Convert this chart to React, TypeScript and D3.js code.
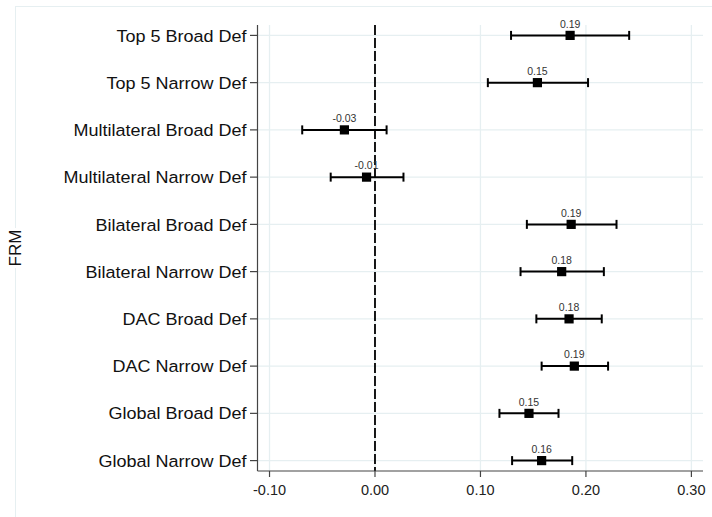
import * as d3 from 'd3';

// coefficient plot: FRM estimates with confidence intervals
const categories = [
  'Top 5 Broad Def',
  'Top 5 Narrow Def',
  'Multilateral Broad Def',
  'Multilateral Narrow Def',
  'Bilateral Broad Def',
  'Bilateral Narrow Def',
  'DAC Broad Def',
  'DAC Narrow Def',
  'Global Broad Def',
  'Global Narrow Def',
];
const estimates = [0.185, 0.154, -0.029, -0.008, 0.186, 0.177, 0.184, 0.189, 0.146, 0.158];
const lower = [0.129, 0.107, -0.069, -0.042, 0.144, 0.138, 0.153, 0.158, 0.118, 0.130];
const upper = [0.241, 0.202, 0.011, 0.027, 0.229, 0.217, 0.215, 0.221, 0.174, 0.187];
const pointLabels = ['0.19', '0.15', '-0.03', '-0.01', '0.19', '0.18', '0.18', '0.19', '0.15', '0.16'];
const xTicks = [-0.1, 0, 0.1, 0.2, 0.3];
const yTitle = 'FRM';

const W = 712;
const H = 517;
const left = 257.5;
const right = 703;
const top = 25;
const bottom = 471;
const gridColor = '#e6eff1';
const font = '"Liberation Sans", Arial, sans-serif';

export default function App() {
  const x = d3.scaleLinear().domain([-0.1114, 0.311]).range([left, right]);
  const y = d3.scalePoint<string>().domain(categories).range([top, bottom]).padding(0.22);
  // plain hyphen for negatives, like the original
  const fmt = (v: number) => d3.format('.2f')(v).replace('\u2212', '-');

  return (
    <svg
      width={W}
      height={H}
      style={{ position: 'absolute', left: 0, top: 0, background: '#fff' }}
      fontFamily={font}
    >
      {/* outer graph region border (left + top only visible) */}
      <line x1={15.5} x2={15.5} y1={6} y2={H} stroke={gridColor} />
      <line x1={15} x2={W} y1={6.5} y2={6.5} stroke={gridColor} />

      {/* grid */}
      {xTicks.map((t) => (
        <line key={'gx' + t} x1={x(t)} x2={x(t)} y1={top} y2={bottom} stroke={gridColor} strokeWidth={1.3} />
      ))}
      {categories.map((c) => (
        <line key={'gy' + c} x1={left} x2={right} y1={y(c)} y2={y(c)} stroke={gridColor} strokeWidth={1.3} />
      ))}

      {/* zero reference line */}
      <line x1={x(0)} x2={x(0)} y1={top} y2={bottom} stroke="#000" strokeWidth={1.8} strokeDasharray="10,3" />

      {/* axes */}
      <line x1={left} x2={left} y1={top} y2={bottom} stroke="#444" strokeWidth={1.2} />
      <line x1={left} x2={right} y1={bottom} y2={bottom} stroke="#444" strokeWidth={1.2} />
      {xTicks.map((t) => (
        <g key={'xt' + t}>
          <line x1={x(t)} x2={x(t)} y1={bottom} y2={bottom + 6} stroke="#444" strokeWidth={1.2} />
          <text x={x(t)} y={495} textAnchor="middle" fontSize={14.5} fill="#222">
            {fmt(t)}
          </text>
        </g>
      ))}
      {categories.map((c) => (
        <g key={'yt' + c}>
          <line x1={left - 7.5} x2={left} y1={y(c)} y2={y(c)} stroke="#444" strokeWidth={1.2} />
          <text
            transform={`translate(${left - 11},${y(c)}) scale(1.06,1)`}
            dy="0.36em"
            textAnchor="end"
            fontSize={17}
            fill="#111"
          >
            {c}
          </text>
        </g>
      ))}

      {/* y title, white backing hides the border line */}
      <rect x={7} y={228} width={15} height={40} fill="#fff" />
      <text transform={`translate(20.5,${(top + bottom) / 2}) rotate(-90)`} textAnchor="middle" fontSize={17} fill="#111">
        {yTitle}
      </text>

      {/* estimates with CI */}
      {categories.map((c, i) => {
        const cy = y(c) as number;
        return (
          <g key={'pt' + c}>
            <line x1={x(lower[i])} x2={x(upper[i])} y1={cy} y2={cy} stroke="#000" strokeWidth={2} />
            <line x1={x(lower[i])} x2={x(lower[i])} y1={cy - 4.5} y2={cy + 4.5} stroke="#000" strokeWidth={2} />
            <line x1={x(upper[i])} x2={x(upper[i])} y1={cy - 4.5} y2={cy + 4.5} stroke="#000" strokeWidth={2} />
            <rect x={x(estimates[i]) - 4.6} y={cy - 4.6} width={9.2} height={9.2} fill="#000" />
            <text x={x(estimates[i])} y={cy - 7.7} textAnchor="middle" fontSize={10.5} fill="#333">
              {pointLabels[i]}
            </text>
          </g>
        );
      })}
    </svg>
  );
}
